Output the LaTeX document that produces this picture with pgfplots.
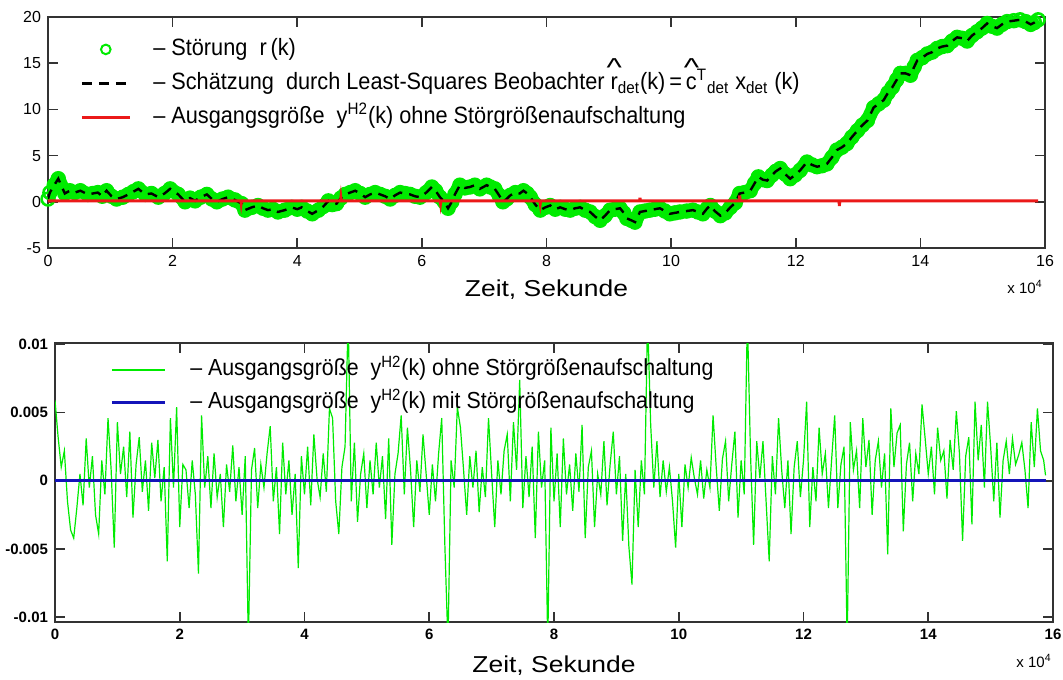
\documentclass[border=0pt]{standalone}
\usepackage{fontspec}
\setmainfont{Liberation Sans}
\newfontfamily\legfont[FakeStretch=0.92]{Liberation Sans}
\newfontfamily\labfont[FakeStretch=1.15]{Liberation Sans}
\usepackage{graphicx}
\usepackage{pgfplots}
\usepackage{pgfplotstable}
\pgfplotsset{compat=1.18}
\definecolor{mgreen}{RGB}{0,235,0}
\definecolor{mred}{RGB}{235,25,25}
\definecolor{mblue}{RGB}{20,20,185}
\newcommand{\hatl}[1]{\ooalign{#1\cr\hidewidth\raisebox{0.55em}{\scalebox{1.5}[1.1]{\char"5E}}\hidewidth\cr}}

\pgfplotstableread[row sep=\\]{
x y\\
0.00 0.3\\ 0.03 1.0\\ 0.10 1.8\\ 0.165 2.5\\ 0.27 0.9\\ 0.35 1.2\\ 0.43 1.0\\ 0.52 1.2\\ 0.64 0.8\\ 0.72 0.9\\
0.80 1.0\\ 0.87 0.6\\ 0.94 1.2\\ 1.02 0.6\\ 1.10 0.3\\ 1.20 0.5\\ 1.29 0.8\\ 1.37 1.1\\ 1.45 1.4\\ 1.56 0.8\\
1.66 0.9\\ 1.77 0.5\\ 1.87 0.9\\ 1.96 1.4\\ 2.09 0.8\\ 2.20 0.0\\ 2.28 0.4\\ 2.36 0.1\\ 2.45 0.5\\ 2.55 0.8\\
2.63 0.3\\ 2.71 0.0\\ 2.80 0.3\\ 2.89 0.5\\ 3.00 0.2\\ 3.11 -0.2\\ 3.16 -0.9\\ 3.27 -0.6\\ 3.37 -0.4\\ 3.45 -0.7\\
3.53 -0.9\\ 3.61 -0.8\\ 3.69 -1.1\\ 3.80 -0.9\\ 3.91 -0.6\\ 4.00 -0.8\\ 4.07 -0.6\\ 4.16 -1.0\\ 4.24 -1.3\\ 4.34 -0.9\\
4.42 -0.5\\ 4.50 0.1\\ 4.56 -0.3\\ 4.63 -0.2\\ 4.70 0.4\\ 4.77 0.8\\ 4.85 1.0\\ 4.93 1.2\\ 5.01 0.9\\ 5.09 0.5\\
5.17 0.8\\ 5.25 1.0\\ 5.33 0.8\\ 5.41 0.6\\ 5.49 0.3\\ 5.57 0.7\\ 5.65 1.0\\ 5.73 0.9\\ 5.81 0.8\\ 5.89 0.6\\
5.97 0.5\\ 6.07 1.0\\ 6.16 1.6\\ 6.22 1.2\\ 6.29 0.5\\ 6.36 0.0\\ 6.42 -0.7\\ 6.48 0.0\\ 6.53 0.8\\ 6.61 1.8\\
6.69 1.5\\ 6.77 1.6\\ 6.85 1.8\\ 6.93 1.4\\ 7.04 1.8\\ 7.10 1.6\\ 7.17 1.4\\ 7.24 0.7\\ 7.30 0.0\\ 7.36 0.3\\
7.42 0.7\\ 7.50 1.0\\ 7.57 0.9\\ 7.63 1.2\\ 7.69 0.9\\ 7.74 0.5\\ 7.82 -0.3\\ 7.90 -0.9\\ 7.98 -0.6\\ 8.06 -0.4\\
8.14 -0.8\\ 8.22 -0.6\\ 8.30 -0.8\\ 8.38 -0.9\\ 8.46 -0.7\\ 8.54 -0.6\\ 8.62 -0.9\\ 8.70 -1.1\\ 8.78 -1.6\\ 8.86 -2.0\\
8.94 -1.5\\ 9.02 -0.9\\ 9.10 -0.8\\ 9.18 -0.7\\ 9.24 -1.2\\ 9.29 -1.8\\ 9.36 -2.0\\ 9.42 -2.2\\ 9.50 -1.1\\ 9.58 -1.0\\
9.66 -0.9\\ 9.74 -0.8\\ 9.82 -0.7\\ 9.90 -1.0\\ 9.98 -1.3\\ 10.06 -1.2\\ 10.14 -1.1\\ 10.25 -1.0\\ 10.35 -0.9\\ 10.43 -1.1\\
10.51 -1.3\\ 10.58 -0.7\\ 10.63 -0.4\\ 10.70 -1.0\\ 10.79 -1.5\\ 10.87 -1.2\\ 10.95 -0.6\\ 11.03 -0.1\\ 11.10 0.9\\ 11.18 1.0\\
11.27 1.2\\ 11.34 2.0\\ 11.40 2.7\\ 11.47 2.4\\ 11.54 2.3\\ 11.62 2.9\\ 11.68 3.3\\ 11.75 3.6\\ 11.83 3.0\\ 11.91 2.5\\
11.99 2.9\\ 12.07 3.4\\ 12.18 4.3\\ 12.26 4.0\\ 12.34 3.8\\ 12.42 3.9\\ 12.50 4.1\\ 12.58 4.8\\ 12.66 5.6\\ 12.74 5.9\\
12.82 6.3\\ 12.90 7.0\\ 12.99 7.7\\ 13.07 8.3\\ 13.15 8.8\\ 13.25 10.2\\ 13.33 10.6\\ 13.41 11.0\\ 13.48 11.8\\ 13.55 12.4\\
13.62 13.2\\ 13.68 13.9\\ 13.76 13.9\\ 13.84 13.7\\ 13.90 14.6\\ 13.95 15.3\\ 14.03 15.6\\ 14.11 16.0\\ 14.19 16.2\\ 14.27 16.6\\
14.35 16.8\\ 14.43 16.9\\ 14.51 17.4\\ 14.59 17.8\\ 14.67 17.7\\ 14.75 17.4\\ 14.83 18.0\\ 14.91 18.4\\ 14.99 18.8\\ 15.07 19.3\\
15.15 19.0\\ 15.23 18.8\\ 15.31 19.2\\ 15.39 19.5\\ 15.50 19.6\\ 15.60 19.7\\ 15.69 19.5\\ 15.77 19.2\\ 15.83 19.4\\ 15.89 19.7\\
}\topdata

\pgfplotstableread[row sep=\\]{
x y\\
0 0.1\\ 3.095 0.1\\ 3.10 -0.15\\ 3.105 0.1\\ 4.695 0.1\\ 4.70 0.4\\ 4.705 0.1\\ 6.295 0.1\\ 6.30 -0.15\\ 6.305 0.1\\
7.895 0.1\\ 7.90 -0.15\\ 7.905 0.1\\ 9.495 0.1\\ 9.50 0.45\\ 9.505 0.1\\ 11.095 0.1\\ 11.10 0.7\\ 11.105 0.1\\
12.695 0.1\\ 12.70 -0.45\\ 12.705 0.1\\ 15.89 0.1\\
}\reddata

% values in units of 1e-3
\pgfplotstableread[row sep=\\]{
x y\\
0.00 5.9\\ 0.05 3.2\\ 0.10 1.0\\ 0.15 2.2\\ 0.20 -1.5\\ 0.25 -3.6\\ 0.30 -4.2\\ 0.35 -2.0\\ 0.40 0.5\\ 0.45 -1.8\\
0.50 3.1\\ 0.55 -0.5\\ 0.60 1.8\\ 0.65 -2.5\\ 0.70 -3.9\\ 0.75 1.5\\ 0.80 -1.0\\ 0.85 4.6\\ 0.90 0.8\\ 0.95 -4.9\\
1.00 4.3\\ 1.05 0.5\\ 1.10 2.5\\ 1.15 -1.2\\ 1.20 3.6\\ 1.25 -2.7\\ 1.30 1.2\\ 1.35 3.2\\ 1.40 -0.8\\ 1.45 1.5\\
1.50 -2.2\\ 1.55 2.8\\ 1.60 0.2\\ 1.65 3.0\\ 1.70 -1.5\\ 1.75 1.0\\ 1.80 -5.9\\ 1.85 4.6\\ 1.90 -0.5\\ 1.95 5.4\\
2.00 -3.4\\ 2.05 1.2\\ 2.10 0.8\\ 2.15 -2.0\\ 2.20 1.5\\ 2.25 -1.0\\ 2.30 -6.8\\ 2.35 4.8\\ 2.40 -0.5\\ 2.45 1.8\\
2.50 -2.0\\ 2.55 2.0\\ 2.60 -1.2\\ 2.65 0.5\\ 2.70 -3.4\\ 2.75 1.2\\ 2.80 -0.8\\ 2.85 2.6\\ 2.90 -1.5\\ 2.95 1.0\\
3.00 -2.5\\ 3.05 1.8\\ 3.10 -12\\ 3.15 0.8\\ 3.20 2.4\\ 3.25 -2.0\\ 3.30 1.2\\ 3.35 -0.5\\ 3.40 2.0\\ 3.45 4.0\\
3.50 -1.5\\ 3.55 1.0\\ 3.60 -3.9\\ 3.65 2.8\\ 3.70 -1.0\\ 3.75 1.5\\ 3.80 -2.5\\ 3.85 0.5\\ 3.90 -6.4\\ 3.95 1.8\\
4.00 -1.0\\ 4.05 2.5\\ 4.10 -1.8\\ 4.15 3.4\\ 4.20 0.2\\ 4.25 -1.2\\ 4.30 2.0\\ 4.35 -0.8\\ 4.40 5.3\\ 4.45 4.6\\
4.50 -1.5\\ 4.55 -3.9\\ 4.60 1.0\\ 4.65 2.5\\ 4.70 12\\ 4.75 -1.5\\ 4.80 2.8\\ 4.85 -3.0\\ 4.90 0.5\\ 4.95 2.0\\
5.00 -2.0\\ 5.05 1.5\\ 5.10 -1.0\\ 5.15 2.8\\ 5.20 -0.5\\ 5.25 1.8\\ 5.30 -2.8\\ 5.35 3.1\\ 5.40 -4.7\\ 5.45 0.5\\
5.50 2.0\\ 5.55 4.8\\ 5.60 -1.0\\ 5.65 3.9\\ 5.70 0.8\\ 5.75 -3.4\\ 5.80 1.5\\ 5.85 -0.8\\ 5.90 3.4\\ 5.95 0.5\\
6.00 -2.5\\ 6.05 1.2\\ 6.10 -1.5\\ 6.15 2.0\\ 6.20 4.6\\ 6.25 -4.7\\ 6.30 -12\\ 6.35 1.5\\ 6.40 -0.5\\ 6.45 5.4\\
6.50 3.9\\ 6.55 0.8\\ 6.60 -2.5\\ 6.65 1.8\\ 6.70 -0.5\\ 6.75 2.2\\ 6.80 -2.3\\ 6.85 1.0\\ 6.90 -1.2\\ 6.95 4.6\\
7.00 0.5\\ 7.05 -3.4\\ 7.10 1.5\\ 7.15 -1.0\\ 7.20 2.2\\ 7.25 3.4\\ 7.30 -1.5\\ 7.35 4.3\\ 7.40 0.8\\ 7.45 7.4\\
7.50 -2.0\\ 7.55 1.8\\ 7.60 -1.2\\ 7.65 2.5\\ 7.70 -4.2\\ 7.75 3.6\\ 7.80 -0.5\\ 7.85 1.5\\ 7.90 -12\\ 7.95 3.9\\
8.00 -1.5\\ 8.05 2.0\\ 8.10 -3.4\\ 8.15 3.1\\ 8.20 -1.0\\ 8.25 1.2\\ 8.30 -2.2\\ 8.35 2.0\\ 8.40 -0.8\\ 8.45 4.1\\
8.50 -4.2\\ 8.55 1.0\\ 8.60 2.2\\ 8.65 -3.4\\ 8.70 0.5\\ 8.75 -1.0\\ 8.80 2.9\\ 8.85 -1.8\\ 8.90 1.2\\ 8.95 3.6\\
9.00 -1.0\\ 9.05 1.8\\ 9.10 -4.4\\ 9.15 0.5\\ 9.20 -4.8\\ 9.25 -7.6\\ 9.30 0.8\\ 9.35 -3.4\\ 9.40 1.5\\ 9.45 -1.0\\
9.50 12\\ 9.55 4.1\\ 9.60 -0.5\\ 9.65 2.9\\ 9.70 -1.2\\ 9.75 1.5\\ 9.80 -0.8\\ 9.85 1.0\\ 9.90 -1.5\\ 9.95 -4.9\\
10.00 0.5\\ 10.05 -3.4\\ 10.10 1.2\\ 10.15 -0.5\\ 10.20 1.7\\ 10.25 0.2\\ 10.30 -1.0\\ 10.35 1.5\\ 10.40 -1.3\\ 10.45 0.8\\
10.50 -0.5\\ 10.55 4.8\\ 10.60 1.0\\ 10.65 -2.2\\ 10.70 1.6\\ 10.75 2.9\\ 10.80 -1.5\\ 10.85 1.2\\ 10.90 3.6\\ 10.95 -2.7\\
11.00 1.5\\ 11.05 -1.0\\ 11.10 12\\ 11.15 2.0\\ 11.20 -4.7\\ 11.25 2.9\\ 11.30 0.2\\ 11.35 2.9\\ 11.40 -1.5\\ 11.45 -5.9\\
11.50 1.8\\ 11.55 -1.0\\ 11.60 4.6\\ 11.65 0.8\\ 11.70 -2.0\\ 11.75 1.5\\ 11.80 -3.9\\ 11.85 1.0\\ 11.90 2.9\\ 11.95 -1.2\\
12.00 1.5\\ 12.05 5.8\\ 12.10 -3.4\\ 12.15 1.0\\ 12.20 -1.5\\ 12.25 3.9\\ 12.30 0.5\\ 12.35 2.0\\ 12.40 -2.0\\ 12.45 1.5\\
12.50 4.8\\ 12.55 -2.0\\ 12.60 1.2\\ 12.65 2.5\\ 12.70 -12\\ 12.75 4.3\\ 12.80 0.8\\ 12.85 2.2\\ 12.90 -2.0\\ 12.95 4.6\\
13.00 1.0\\ 13.05 3.0\\ 13.10 -2.5\\ 13.15 1.5\\ 13.20 2.9\\ 13.25 -0.5\\ 13.30 2.0\\ 13.35 -5.4\\ 13.40 5.3\\ 13.45 1.0\\
13.50 3.5\\ 13.55 4.1\\ 13.60 -3.7\\ 13.65 1.2\\ 13.70 2.8\\ 13.75 -1.5\\ 13.80 2.0\\ 13.85 0.5\\ 13.90 5.6\\ 13.95 3.1\\
14.00 0.5\\ 14.05 2.5\\ 14.10 -1.0\\ 14.15 3.9\\ 14.20 1.5\\ 14.25 2.2\\ 14.30 -1.3\\ 14.35 3.0\\ 14.40 0.8\\ 14.45 5.1\\
14.50 2.0\\ 14.55 -4.4\\ 14.60 1.8\\ 14.65 3.2\\ 14.70 -3.2\\ 14.75 5.8\\ 14.80 1.5\\ 14.85 4.1\\ 14.90 -0.5\\ 14.95 5.8\\
15.00 2.5\\ 15.05 -1.5\\ 15.10 2.8\\ 15.15 -2.7\\ 15.20 1.5\\ 15.25 2.9\\ 15.30 0.5\\ 15.35 3.1\\ 15.40 1.2\\ 15.45 1.9\\
15.50 2.8\\ 15.55 0.8\\ 15.60 -2.0\\ 15.65 4.3\\ 15.70 1.0\\ 15.75 5.3\\ 15.80 2.2\\ 15.85 1.5\\ 15.88 0.4\\
}\botdata

\pgfplotstableread[row sep=\\]{
x y\\
0 0\\ 15.88 0\\
}\bluedata

\begin{document}
\begin{tikzpicture}
\path[use as bounding box] (0,0) rectangle (531.5pt,-339.5pt);

% ---------------- top axis ----------------
\begin{axis}[
  at={(24pt,-124pt)}, anchor=south west, scale only axis,
  width=498.5pt, height=115.5pt,
  xmin=0, xmax=16, ymin=-5, ymax=20,
  clip mode=individual,
  xtick={0,2,...,16}, xticklabels={0,2,4,6,8,10,12,14,16},
  ytick={-5,0,5,10,15,20}, yticklabels={-5,0,5,10,15,20},
  tick align=inside, major tick length=5pt,
  axis line style={black!80, line width=0.8pt},
  every tick/.style={black!80, line width=0.8pt},
  tick label style={font=\fontsize{8}{9}\selectfont},
  xlabel={Zeit, Sekunde},
  xlabel style={font=\labfont\fontsize{11.5}{13}\selectfont, at={(axis description cs:0.5,0)}, anchor=center, yshift=-21pt},
  legend cell align=left,
  legend style={draw=none, fill=none, at={(0.032,0.922)}, anchor=north west,
    inner sep=0pt, row sep=3pt, column sep=10pt,
    font=\legfont\fontsize{11.8}{14}\selectfont,
    nodes={inner sep=1pt, text height=9pt, text depth=3pt}},
  legend image code/.code={\draw[mark repeat=2,mark phase=2,#1] plot coordinates {(0pt,0pt) (12pt,0pt) (24pt,0pt)};},
]
\addplot[forget plot, mgreen, line width=7pt, line join=round] table[x=x,y=y]{\topdata};
\addplot[only marks, mark=o, mgreen, mark size=3.2pt, line width=1.3pt,
  legend image post style={mark size=2.4pt, line width=1pt}] table[x=x,y=y]{\topdata};
\addlegendentry{– Störung\ \ r\,(k)}
\addplot[black, line width=1.2pt, dash pattern=on 5pt off 3.5pt] table[x=x,y=y]{\topdata};
\addlegendentry{– Schätzung\ \ durch Least-Squares Beobachter \hatl{r}\textsubscript{det}(k)\,=\,\hatl{c}\textsuperscript{T}\textsubscript{det} x\textsubscript{det} (k)}
\addplot[mred, line width=1.5pt] table[x=x,y=y]{\reddata};
\addlegendentry{– Ausgangsgröße\ \ y\textsuperscript{H2}(k) ohne Störgrößenaufschaltung}
\node[anchor=east, font=\fontsize{7.5}{9}\selectfont, inner sep=0pt] at (rel axis cs:1,0) [xshift=-1pt, yshift=-19.5pt] {x 10\textsuperscript{4}};
\end{axis}

% ---------------- bottom axis ----------------
\begin{axis}[
  at={(27.5pt,-311pt)}, anchor=south west, scale only axis,
  width=499pt, height=139.5pt,
  xmin=0, xmax=16, ymin=-10.35, ymax=10.1,
  clip mode=individual,
  xtick={0,2,...,16}, xticklabels={0,2,4,6,8,10,12,14,16},
  ytick={-10,-5,0,5,10}, yticklabels={-0.01,-0.005,0,0.005,0.01},
  tick align=inside, major tick length=5pt,
  axis line style={black!80, line width=0.8pt},
  every tick/.style={black!80, line width=0.8pt},
  tick label style={font=\fontsize{7.5}{9}\selectfont\bfseries},
  xlabel={Zeit, Sekunde},
  xlabel style={font=\labfont\fontsize{11.5}{13}\selectfont\mdseries, at={(axis description cs:0.5,0)}, anchor=center, yshift=-22pt},
  legend cell align=left,
  legend style={draw=none, fill=none, at={(0.055,0.955)}, anchor=north west,
    inner sep=0pt, row sep=2.5pt, column sep=11pt,
    font=\legfont\fontsize{11.6}{14}\selectfont,
    nodes={inner sep=1pt, text height=9pt, text depth=3pt}},
  legend image code/.code={\draw[#1] (0pt,0pt) -- (26.5pt,0pt);},
]
\addplot[mgreen, line width=0.6pt] table[x=x,y=y]{\botdata};
\addlegendentry{– Ausgangsgröße\ \ y\textsuperscript{H2}(k) ohne Störgrößenaufschaltung}
\addplot[mblue, line width=1.5pt] table[x=x,y=y]{\bluedata};
\addlegendentry{– Ausgangsgröße\ \ y\textsuperscript{H2}(k) mit Störgrößenaufschaltung}
\node[anchor=east, font=\fontsize{7.5}{9}\selectfont\mdseries, inner sep=0pt] at (rel axis cs:1,0) [xshift=-0.5pt, yshift=-19.5pt] {x 10\textsuperscript{4}};
\end{axis}
\end{tikzpicture}
\end{document}
